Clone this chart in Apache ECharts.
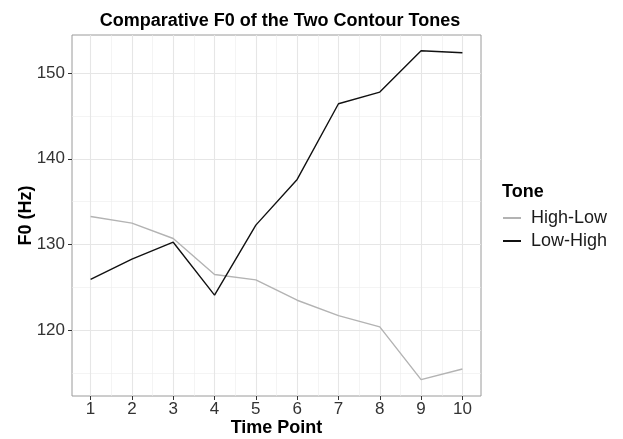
<!DOCTYPE html>
<html><head><meta charset="utf-8">
<script src="https://cdn.jsdelivr.net/npm/echarts@6/dist/echarts.min.js"></script>
<style>html,body{margin:0;padding:0;background:#fff}#c{width:623px;height:439px}</style>
</head><body><div id="c"></div>
<script>
const timePoints = [1,2,3,4,5,6,7,8,9,10];
const highLow = [133.27,132.49,130.7,126.5,125.87,123.5,121.71,120.39,114.24,115.48];
const lowHigh = [125.92,128.29,130.27,124.09,132.26,137.59,146.42,147.78,152.6,152.37];
const xTicks = [1,2,3,4,5,6,7,8,9,10];
const yTicks = [120,130,140,150];
const yMinor = [115,125,135,145];
const xMin = 0.55, xMax = 10.45, yMin = 112.33, yMax = 154.44;

const xMinor = xTicks.slice(0,-1).map(v => v + 0.5);
const font = 'Liberation Sans, Arial, sans-serif';

const gridLines = [];
xMinor.forEach(v => gridLines.push({xAxis: v, lineStyle:{color:'#ededed', width:0.6, type:'solid'}}));
yMinor.forEach(v => gridLines.push({yAxis: v, lineStyle:{color:'#ededed', width:0.6, type:'solid'}}));
xTicks.forEach(v => gridLines.push({xAxis: v, lineStyle:{color:'#e6e6e6', width:1.1, type:'solid'}}));
yTicks.forEach(v => gridLines.push({yAxis: v, lineStyle:{color:'#e6e6e6', width:1.1, type:'solid'}}));

const chart = echarts.init(document.getElementById('c'), null, {renderer:'canvas'});
chart.setOption({
  animation: false,
  backgroundColor: '#fff',
  title: {
    text: 'Comparative F0 of the Two Contour Tones',
    left: 275, top: 7, textAlign: 'center',
    textStyle: {fontFamily: font, fontWeight: 'bold', fontSize: 18, color: '#000'}
  },
  grid: {left: 72, right: 142, top: 35, bottom: 43, show: true, borderColor: '#9a9a9a', borderWidth: 1,
         backgroundColor: 'transparent', containLabel: false, outerBoundsMode: 'none'},
  legend: {
    orient: 'vertical', left: 503, top: 209, itemGap: 5, padding: 0,
    itemWidth: 18, itemHeight: 2, icon: 'rect',
    textStyle: {fontFamily: font, fontSize: 18, color: '#1a1a1a', padding: [0,0,0,5]},
    data: [{name:'High-Low'}, {name:'Low-High'}]
  },
  graphic: [{type:'text', left: 502, top: 183, style:{text:'Tone', fontFamily: font, fontWeight:'bold', fontSize: 18, fill:'#000'}}],
  xAxis: {
    type: 'value', min: xMin, max: xMax,
    name: 'Time Point', nameLocation: 'middle', nameGap: 23, nameMoveOverlap: false,
    nameTextStyle: {fontFamily: font, fontWeight: 'bold', fontSize: 18, color: '#000'},
    axisLine: {show: false},
    axisTick: {show: true, length: 4, lineStyle: {color: '#333'}, customValues: xTicks},
    axisLabel: {customValues: xTicks, fontFamily: font, fontSize: 17, color: '#333', margin: 5},
    splitLine: {show: false}, minorSplitLine: {show: false}
  },
  yAxis: {
    type: 'value', min: yMin, max: yMax,
    name: 'F0 (Hz)', nameLocation: 'middle', nameGap: 37, nameRotate: 90, nameMoveOverlap: false,
    nameTextStyle: {fontFamily: font, fontWeight: 'bold', fontSize: 18, color: '#000'},
    axisLine: {show: false},
    axisTick: {show: true, length: 4, lineStyle: {color: '#333'}, customValues: yTicks},
    axisLabel: {customValues: yTicks, fontFamily: font, fontSize: 17, color: '#333', margin: 7},
    splitLine: {show: false}
  },
  series: [
    {type:'line', name:'_grid', data: [], silent: true, z: 1,
     markLine: {z: 1, silent: true, symbol: ['none','none'], label: {show: false}, animation: false, data: gridLines}},
    {type:'line', name:'High-Low', z: 5, showSymbol: false, symbol: 'none',
     data: timePoints.map((t,i) => [t, highLow[i]]),
     lineStyle: {color: '#b3b3b3', width: 1.4}, itemStyle: {color: '#b3b3b3'}},
    {type:'line', name:'Low-High', z: 6, showSymbol: false, symbol: 'none',
     data: timePoints.map((t,i) => [t, lowHigh[i]]),
     lineStyle: {color: '#111111', width: 1.4}, itemStyle: {color: '#111111'}}
  ]
});
</script></body></html>
